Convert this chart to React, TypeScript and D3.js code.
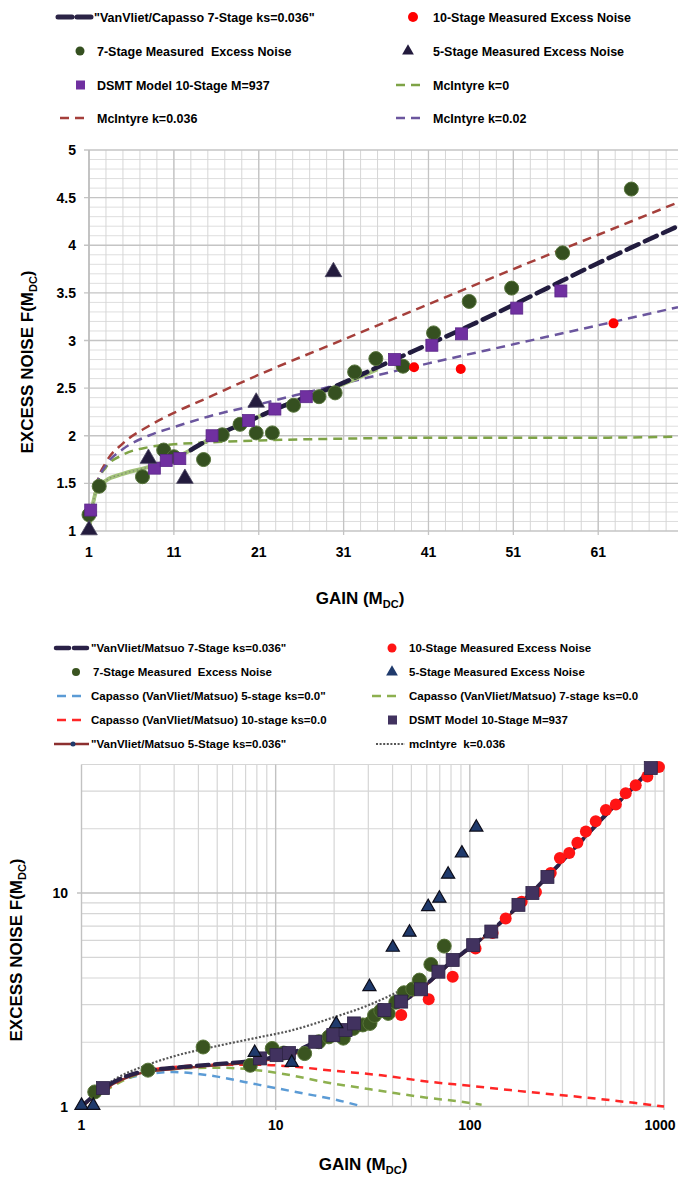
import React from 'react'
import * as d3 from 'd3'

type Pt = [number, number]

// ---------- top chart (linear) : [gain, excess noise] ----------
const topSevenStage: Pt[] = [
  [1, 1.17], [2.2, 1.47], [7.3, 1.57], [9.8, 1.85], [11, 1.78], [14.5, 1.75],
  [16.7, 2.01], [18.8, 2.12], [20.7, 2.03], [22.6, 2.03], [25.1, 2.32], [28.1, 2.41],
  [30, 2.45], [32.3, 2.67], [34.8, 2.81], [38, 2.73], [41.6, 3.08], [45.8, 3.41],
  [50.8, 3.55], [56.8, 3.92], [64.9, 4.59],
]
const topDsmt: Pt[] = [
  [1.2, 1.22], [8.7, 1.66], [10.1, 1.74], [11.7, 1.76], [15.5, 2.0], [19.8, 2.16],
  [22.9, 2.28], [26.6, 2.41], [37, 2.8], [41.4, 2.95], [44.9, 3.07], [51.4, 3.34], [56.6, 3.52],
]
const topFiveStage: Pt[] = [[1, 1.0], [8, 1.75], [12.3, 1.54], [20.7, 2.34], [29.8, 3.71]]
const topTenStage: Pt[] = [[39.3, 2.72], [44.8, 2.7], [62.8, 3.18]]
const topGreenBand: Pt[] = [
  [1, 1.0], [1.5, 1.3], [2, 1.45], [3, 1.53], [5, 1.6], [8, 1.67], [11, 1.76],
  [13, 1.85], [15.5, 1.98], [20, 2.16], [23, 2.28], [27, 2.42], [30, 2.51], [35, 2.7],
]
const topVanVliet: Pt[] = [
  [13, 1.85], [15.5, 1.98], [20, 2.16], [23, 2.28], [27, 2.42], [30, 2.52], [35, 2.72],
  [40, 2.92], [45, 3.12], [50, 3.33], [55, 3.55], [60, 3.77], [65, 3.98], [70.4, 4.2],
]
const topMcIntyre036: Pt[] = [
  [1, 1.0], [2, 1.52], [3, 1.72], [5, 1.92], [8, 2.1], [11, 2.24], [15, 2.4], [21, 2.64],
  [31, 3.01], [41, 3.38], [51, 3.75], [61, 4.11], [70.4, 4.45],
]
const topMcIntyre02: Pt[] = [
  [1, 1.0], [2, 1.51], [3, 1.69], [5, 1.86], [8, 2.0], [11, 2.09], [15, 2.2], [21, 2.33],
  [31, 2.55], [41, 2.76], [51, 2.96], [61, 3.16], [70.4, 3.35],
]
const topMcIntyre0: Pt[] = [
  [1, 1.0], [2, 1.5], [3, 1.67], [5, 1.8], [8, 1.88], [11, 1.91], [15, 1.93], [21, 1.95],
  [31, 1.97], [41, 1.98], [51, 1.98], [61, 1.98], [70.4, 1.99],
]
const topXTicks = [1, 11, 21, 31, 41, 51, 61]
const topYTicks = [1, 1.5, 2, 2.5, 3, 3.5, 4, 4.5, 5]

// ---------- bottom chart (log-log) ----------
const botTenStage: Pt[] = [
  [44.3, 2.68], [61.4, 3.18], [81.6, 4.05], [107, 5.5], [131, 6.5], [153, 7.6], [185, 9.1],
  [219, 10.1], [261, 12.4], [291, 14.6], [325, 15.4], [358, 17.2], [396, 19.4], [445, 21.7],
  [502, 24.5], [565, 26.0], [635, 29.3], [715, 32.0], [821, 35.1], [942, 38.9],
]
const botSevenStage: Pt[] = [
  [1.17, 1.17], [2.2, 1.48], [4.23, 1.9], [7.4, 1.56], [9.6, 1.87], [11, 1.78], [14.1, 1.77],
  [16.7, 2.01], [18.8, 2.12], [22.3, 2.09], [25.1, 2.32], [28.1, 2.41], [30.6, 2.45],
  [32.3, 2.67], [34.8, 2.81], [38, 2.73], [41.6, 3.08], [45.8, 3.41], [50.8, 3.55],
  [55, 3.91], [63, 4.63], [73.8, 5.64],
]
const botFiveStage: Pt[] = [
  [1, 1.0], [1.15, 1.0], [7.8, 1.77], [12.1, 1.59], [20.5, 2.41], [30.4, 3.6], [40.1, 5.5],
  [48.9, 6.47], [61, 8.53], [69.7, 9.34], [77.3, 12.1], [91, 15.2], [108, 20.1],
]
const botDsmt: Pt[] = [
  [1.29, 1.22], [8.3, 1.68], [10.1, 1.74], [11.7, 1.78], [16, 2.01], [19.8, 2.16], [22.9, 2.28],
  [25.3, 2.45], [36.3, 2.83], [44.3, 3.1], [56.1, 3.54], [68.9, 4.28], [81.6, 4.86], [104, 5.7],
  [129, 6.6], [178, 8.8], [210, 10.0], [251, 11.9], [855, 38.5],
]
const botVanVliet7: Pt[] = [
  [1, 1.0], [1.3, 1.22], [2, 1.45], [3, 1.52], [5, 1.58], [8, 1.65], [10, 1.71], [12, 1.77],
  [15, 1.95], [20, 2.15], [25, 2.35], [30, 2.55], [40, 2.92], [50, 3.3], [60, 3.75], [80, 4.75],
  [100, 5.55], [130, 6.7], [180, 8.8], [250, 11.9], [350, 16.4], [500, 23.2], [700, 31.5], [850, 38],
]
const botVanVliet5: Pt[] = [
  [1, 1.0], [1.3, 1.2], [2, 1.43], [3, 1.5], [5, 1.56], [8, 1.62], [10, 1.68], [12, 1.74],
  [15, 1.9], [20, 2.12], [25, 2.33], [30, 2.53], [40, 2.9], [50, 3.28], [60, 3.72], [80, 4.7],
  [100, 5.5], [130, 6.65], [180, 8.7], [250, 11.8], [350, 16.3], [500, 23], [700, 31.2], [850, 37.6],
]
const botCapasso5: Pt[] = [
  [1, 1.0], [1.5, 1.3], [2, 1.4], [2.5, 1.44], [3, 1.45], [4, 1.42], [5, 1.38], [7, 1.3],
  [10, 1.22], [14, 1.15], [20, 1.08], [28, 1.0],
]
const botCapasso7: Pt[] = [
  [1, 1.0], [2, 1.42], [3, 1.5], [5, 1.52], [8, 1.48], [12, 1.4], [18, 1.3], [28, 1.22],
  [40, 1.16], [60, 1.1], [85, 1.06], [115, 1.02],
]
const botCapasso10: Pt[] = [
  [1, 1.0], [2, 1.45], [3, 1.53], [5, 1.57], [8, 1.57], [12, 1.54], [20, 1.47], [35, 1.4],
  [60, 1.31], [100, 1.25], [200, 1.17], [400, 1.1], [700, 1.04], [1000, 1.0],
]
const botMcIntyre: Pt[] = [
  [1, 1.0], [1.5, 1.35], [2, 1.52], [3, 1.72], [5, 1.92], [8, 2.1], [12, 2.27], [20, 2.62],
  [30, 2.98], [40, 3.35], [55, 3.9],
]
const botXTicks = [1, 10, 100, 1000]
const botYTicks = [1, 10]

const FONT = 'Liberation Sans, Arial, sans-serif'

function Title({ x, y, rotate }: { x: number; y: number; rotate?: boolean }) {
  return (
    <text x={x} y={y} textAnchor="middle" fontFamily={FONT} fontWeight="bold" fontSize={17}
      transform={rotate ? `rotate(-90 ${x} ${y})` : undefined}>
      EXCESS NOISE F(M<tspan fontSize={11} dy={4}>DC</tspan><tspan dy={-4}>)</tspan>
    </text>
  )
}

function GainTitle({ x, y }: { x: number; y: number }) {
  return (
    <text x={x} y={y} textAnchor="middle" fontFamily={FONT} fontWeight="bold" fontSize={17}>
      GAIN (M<tspan fontSize={11} dy={4}>DC</tspan><tspan dy={-4}>)</tspan>
    </text>
  )
}

function TopChart() {
  const x = d3.scaleLinear().domain([1, 70.4]).range([89, 678])
  const y = d3.scaleLinear().domain([1, 5]).range([531, 150])
  const line = d3.line<Pt>().x(d => x(d[0])).y(d => y(d[1])).curve(d3.curveMonotoneX)
  const minorX = d3.range(3, 71, 2)
  const minorY = d3.range(1.1, 5.0, 0.1).filter(v => Math.abs(v * 2 - Math.round(v * 2)) > 0.01)
  const tri = d3.symbol().type(d3.symbolTriangle).size(120)()
  return (
    <g>
      {minorY.map(v => <line key={'my' + v} x1={89} x2={678} y1={y(v)} y2={y(v)} stroke="#dedede" strokeWidth={1} />)}
      {minorX.map(v => <line key={'mx' + v} x1={x(v)} x2={x(v)} y1={150} y2={531} stroke="#d6d6d6" strokeWidth={1} />)}
      {topYTicks.map(v => <line key={'gy' + v} x1={84} x2={678} y1={y(v)} y2={y(v)} stroke="#c4c4c4" strokeWidth={1.3} />)}
      {topXTicks.map(v => <line key={'gx' + v} x1={x(v)} x2={x(v)} y1={150} y2={535} stroke="#c4c4c4" strokeWidth={1.3} />)}
      <line x1={89} x2={89} y1={150} y2={531} stroke="#bdbdbd" strokeWidth={1.5} />
      {topYTicks.map(v => (
        <text key={'ty' + v} x={76} y={y(v) + 5} textAnchor="end" fontFamily={FONT} fontWeight="bold" fontSize={14}>{v}</text>
      ))}
      {topXTicks.map(v => (
        <text key={'tx' + v} x={x(v)} y={557} textAnchor="middle" fontFamily={FONT} fontWeight="bold" fontSize={14}>{v}</text>
      ))}
      <path d={line(topMcIntyre0)!} fill="none" stroke="#7ea346" strokeWidth={2.5} strokeDasharray="9 6" />
      <path d={line(topMcIntyre036)!} fill="none" stroke="#a53f3b" strokeWidth={2.5} strokeDasharray="9 6" />
      <path d={line(topMcIntyre02)!} fill="none" stroke="#6b569e" strokeWidth={2.5} strokeDasharray="9 6" />
      <path d={line(topGreenBand)!} fill="none" stroke="#a3c27a" strokeWidth={4} />
      <path d={line(topGreenBand)!} fill="none" stroke="#7d8a70" strokeWidth={1.2} strokeDasharray="1.5 2.5" />
      <path d={line(topVanVliet)!} fill="none" stroke="#221c3f" strokeWidth={4.5} strokeDasharray="13 7" strokeLinecap="round" />
      {topSevenStage.map((d, i) => (
        <circle key={'g' + i} cx={x(d[0])} cy={y(d[1])} r={7} fill="#355020" stroke="#56733a" strokeWidth={1} />
      ))}
      {topDsmt.map((d, i) => (
        <rect key={'s' + i} x={x(d[0]) - 6} y={y(d[1]) - 6} width={12} height={12} fill="#7030a0" stroke="#5b2789" strokeWidth={0.8} />
      ))}
      {topFiveStage.map((d, i) => (
        <path key={'t' + i} d={tri} transform={`translate(${x(d[0])},${y(d[1]) - 1})`} fill="#231b3d" stroke="#4a4560" strokeWidth={0.8} />
      ))}
      {topTenStage.map((d, i) => (
        <circle key={'r' + i} cx={x(d[0])} cy={y(d[1])} r={5} fill="#ff0000" />
      ))}
      <Title x={33} y={362} rotate />
      <GainTitle x={360} y={604} />
    </g>
  )
}

function BottomChart() {
  const x = d3.scaleLog().domain([1, 1000]).range([81.5, 664])
  const y = d3.scaleLog().domain([1, 40]).range([1106.5, 764.5])
  const line = d3.line<Pt>().x(d => x(d[0])).y(d => y(d[1])).curve(d3.curveMonotoneX)
  const gridX = [...d3.range(2, 10), ...d3.range(20, 100, 10), ...d3.range(200, 1000, 100)]
  const gridY = [...d3.range(2, 10), 20, 30, 40]
  const tri = d3.symbol().type(d3.symbolTriangle).size(75)()
  return (
    <g>
      {gridX.map(v => <line key={'bx' + v} x1={x(v)} x2={x(v)} y1={764.5} y2={1106.5} stroke="#d6d6d6" strokeWidth={1.2} />)}
      {gridY.map(v => <line key={'by' + v} x1={81.5} x2={664} y1={y(v)} y2={y(v)} stroke="#d6d6d6" strokeWidth={1.2} />)}
      {botXTicks.map(v => <line key={'bmx' + v} x1={x(v)} x2={x(v)} y1={764.5} y2={1110} stroke="#c2c2c2" strokeWidth={1.4} />)}
      {botYTicks.map(v => <line key={'bmy' + v} x1={77} x2={664} y1={y(v)} y2={y(v)} stroke="#c2c2c2" strokeWidth={1.4} />)}
      {botYTicks.map(v => (
        <text key={'bty' + v} x={68} y={y(v) + 5} textAnchor="end" fontFamily={FONT} fontWeight="bold" fontSize={14}>{v}</text>
      ))}
      {botXTicks.map(v => (
        <text key={'btx' + v} x={Math.min(x(v), 660)} y={1130} textAnchor="middle" fontFamily={FONT} fontWeight="bold" fontSize={14}>{v}</text>
      ))}
      <path d={line(botCapasso5)!} fill="none" stroke="#5b9bd5" strokeWidth={2.5} strokeDasharray="8 6" />
      <path d={line(botCapasso7)!} fill="none" stroke="#8db04f" strokeWidth={2.5} strokeDasharray="8 6" />
      <path d={line(botCapasso10)!} fill="none" stroke="#ff2626" strokeWidth={2.5} strokeDasharray="8 6" />
      <path d={line(botMcIntyre)!} fill="none" stroke="#555555" strokeWidth={2.2} strokeDasharray="2 1.8" />
      <path d={line(botVanVliet5)!} fill="none" stroke="#8c2f2f" strokeWidth={2.5} />
      <path d={line(botVanVliet7)!} fill="none" stroke="#2a2147" strokeWidth={4} strokeDasharray="12 6" strokeLinecap="round" />
      {botSevenStage.map((d, i) => (
        <circle key={'bg' + i} cx={x(d[0])} cy={y(d[1])} r={7} fill="#3a5420" stroke="#587538" strokeWidth={1} />
      ))}
      {botTenStage.map((d, i) => (
        <circle key={'br' + i} cx={x(d[0])} cy={y(d[1])} r={6} fill="#ff1414" />
      ))}
      {botDsmt.map((d, i) => (
        <rect key={'bs' + i} x={x(d[0]) - 6.5} y={y(d[1]) - 6.5} width={13} height={13} fill="#41325f" stroke="#2e2446" strokeWidth={0.8} />
      ))}
      {botFiveStage.map((d, i) => (
        <path key={'bt' + i} d={tri} transform={`translate(${x(d[0])},${y(d[1]) - 1})`} fill="#1f3a6c" stroke="#0d0d1a" strokeWidth={1.2} />
      ))}
      <Title x={22} y={950} rotate />
      <GainTitle x={363} y={1170} />
    </g>
  )
}

const topLegendLeft = ['"VanVliet/Capasso 7-Stage ks=0.036"', '7-Stage Measured  Excess Noise', 'DSMT Model 10-Stage M=937', 'McIntyre k=0.036']
const topLegendRight = ['10-Stage Measured Excess Noise', '5-Stage Measured Excess Noise', 'McIntyre k=0', 'McIntyre k=0.02']
const botLegendLeft = ['"VanVliet/Matsuo 7-Stage ks=0.036"', '7-Stage Measured  Excess Noise', 'Capasso (VanVliet/Matsuo) 5-stage ks=0.0"', 'Capasso (VanVliet/Matsuo) 10-stage ks=0.0', '"VanVliet/Matsuo 5-Stage ks=0.036"']
const botLegendRight = ['10-Stage Measured Excess Noise', '5-Stage Measured Excess Noise', 'Capasso (VanVliet/Matsuo) 7-stage ks=0.0', 'DSMT Model 10-Stage M=937', 'mcIntyre  k=0.036']

function Dashes({ x1, x2, y, color, w = 2.5, dash = '9 6', cap }: { x1: number; x2: number; y: number; color: string; w?: number; dash?: string; cap?: 'round' }) {
  return <line x1={x1} x2={x2} y1={y} y2={y} stroke={color} strokeWidth={w} strokeDasharray={dash} strokeLinecap={cap} />
}

function Legends() {
  const tri = d3.symbol().type(d3.symbolTriangle).size(60)()
  const tRows = [17, 51, 85, 118]
  const bRows = [648, 672, 696, 720, 744]
  const txt = (s: string, x: number, y: number, size: number, k: string) => (
    <text key={k} x={x} y={y + size * 0.36} fontFamily={FONT} fontWeight="bold" fontSize={size} style={{ whiteSpace: 'pre' }}>{s}</text>
  )
  return (
    <g>
      {topLegendLeft.map((s, i) => txt(s, i === 0 ? 94 : 97, tRows[i], 12.5, 'tl' + i))}
      {topLegendRight.map((s, i) => txt(s, 433, tRows[i], 12.5, 'tr' + i))}
      <Dashes x1={58} x2={91} y={tRows[0]} color="#2b2446" w={5} dash="14 5" cap="round" />
      <circle cx={80} cy={tRows[1]} r={4.5} fill="#355020" />
      <rect x={76} y={tRows[2] - 4.5} width={9} height={9} fill="#7030a0" />
      <Dashes x1={60} x2={86} y={tRows[3]} color="#a53f3b" />
      <circle cx={413} cy={tRows[0]} r={5} fill="#ff0000" />
      <path d={tri} transform={`translate(408,${tRows[1]})`} fill="#231b3d" />
      <Dashes x1={396} x2={422} y={tRows[2]} color="#7ea346" />
      <Dashes x1={396} x2={422} y={tRows[3]} color="#6b569e" />

      {botLegendLeft.map((s, i) => txt(s, i === 1 ? 93 : 91, bRows[i], 11.5, 'bl' + i))}
      {botLegendRight.map((s, i) => txt(s, 409, bRows[i], 11.5, 'br' + i))}
      <Dashes x1={56} x2={88} y={bRows[0]} color="#2a2147" w={4.5} dash="13 5" cap="round" />
      <circle cx={76} cy={bRows[1]} r={4} fill="#3a5420" />
      <Dashes x1={57} x2={84} y={bRows[2]} color="#5b9bd5" />
      <Dashes x1={57} x2={84} y={bRows[3]} color="#ff2626" />
      <line x1={54} x2={89} y1={bRows[4]} y2={bRows[4]} stroke="#8c2f2f" strokeWidth={2.5} />
      <circle cx={73} cy={bRows[4]} r={2.5} fill="#1f3a6c" />
      <circle cx={392} cy={bRows[0]} r={4.5} fill="#ff1414" />
      <path d={tri} transform={`translate(392,${bRows[1]})`} fill="#1f3a6c" />
      <Dashes x1={372} x2={400} y={bRows[2]} color="#8db04f" />
      <rect x={388} y={bRows[3] - 4.5} width={9} height={9} fill="#41325f" />
      <Dashes x1={376} x2={405} y={bRows[4]} color="#555555" w={2} dash="2 1.6" />
    </g>
  )
}

export default function App() {
  return (
    <svg width={678} height={1182} style={{ position: 'absolute', left: 0, top: 0, background: '#fff' }}>
      <Legends />
      <TopChart />
      <BottomChart />
    </svg>
  )
}
